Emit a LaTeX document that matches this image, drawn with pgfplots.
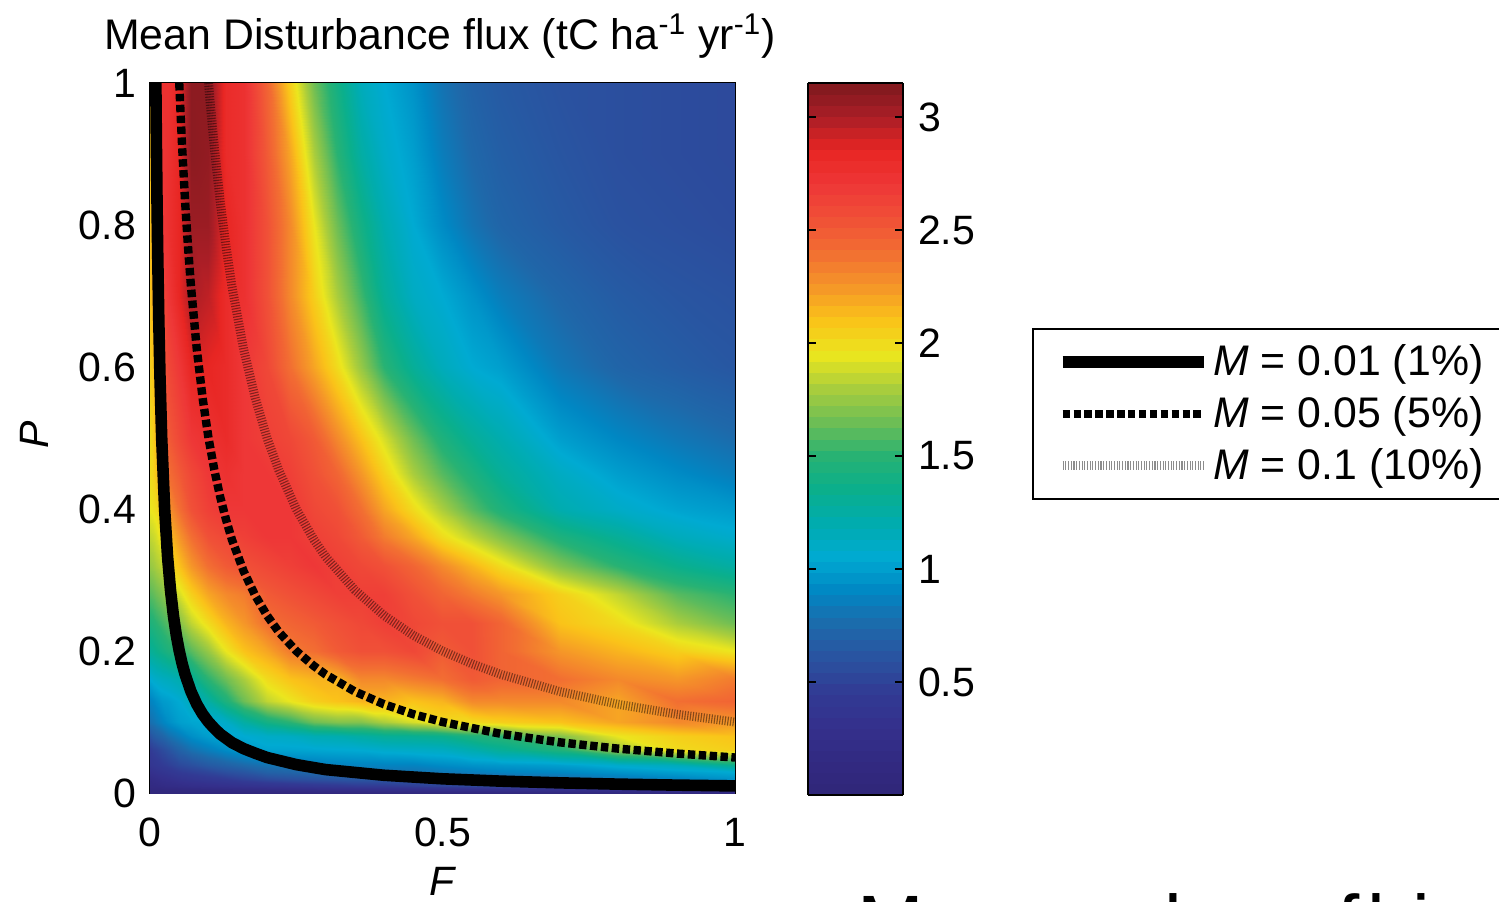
\documentclass[border=0pt]{standalone}
\usepackage{pgfplots}
\usepackage{pgfplotstable}
\pgfplotsset{compat=1.18}
\usepackage{fontspec}
\setmainfont{Liberation Sans}
\newcommand{\lf}{\fontsize{20.5}{24}\selectfont}
\pgfplotstableread[row sep=\\]{
F P v\\
0 0 .05\\ .005 0 .05\\ .01 0 .05\\ .02 0 .06\\ .03 0 .06\\ .05 0 .06\\ .07 0 .07\\ .1 0 .07\\ .13 0 .07\\ .16 0 .08\\ .2 0 .08\\ .24 0 .08\\ .28 0 .09\\ .32 0 .09\\ .36 0 .09\\ .4 0 .1\\ .45 0 .1\\ .5 0 .1\\ .55 0 .1\\ .6 0 .1\\ .7 0 .1\\ .8 0 .1\\ .9 0 .12\\ 1 0 .12\\
0 .005 .1\\ .005 .005 .1\\ .01 .005 .1\\ .02 .005 .11\\ .03 .005 .12\\ .05 .005 .13\\ .07 .005 .14\\ .1 .005 .16\\ .13 .005 .18\\ .16 .005 .2\\ .2 .005 .22\\ .24 .005 .24\\ .28 .005 .26\\ .32 .005 .28\\ .36 .005 .28\\ .4 .005 .3\\ .45 .005 .3\\ .5 .005 .32\\ .55 .005 .32\\ .6 .005 .33\\ .7 .005 .33\\ .8 .005 .35\\ .9 .005 .35\\ 1 .005 .35\\
0 .01 .15\\ .005 .01 .15\\ .01 .01 .16\\ .02 .01 .18\\ .03 .01 .2\\ .05 .01 .22\\ .07 .01 .25\\ .1 .01 .27\\ .13 .01 .3\\ .16 .01 .32\\ .2 .01 .35\\ .24 .01 .37\\ .28 .01 .4\\ .32 .01 .42\\ .36 .01 .45\\ .4 .01 .45\\ .45 .01 .47\\ .5 .01 .5\\ .55 .01 .52\\ .6 .01 .55\\ .7 .01 .6\\ .8 .01 .65\\ .9 .01 .7\\ 1 .01 .75\\
0 .02 .2\\ .005 .02 .22\\ .01 .02 .24\\ .02 .02 .28\\ .03 .02 .3\\ .05 .02 .35\\ .07 .02 .38\\ .1 .02 .42\\ .13 .02 .45\\ .16 .02 .5\\ .2 .02 .55\\ .24 .02 .58\\ .28 .02 .6\\ .32 .02 .62\\ .36 .02 .63\\ .4 .02 .63\\ .45 .02 .62\\ .5 .02 .63\\ .55 .02 .65\\ .6 .02 .68\\ .7 .02 .75\\ .8 .02 .82\\ .9 .02 .88\\ 1 .02 .95\\
0 .03 .3\\ .005 .03 .32\\ .01 .03 .34\\ .02 .03 .37\\ .03 .03 .4\\ .05 .03 .45\\ .07 .03 .48\\ .1 .03 .52\\ .13 .03 .58\\ .16 .03 .62\\ .2 .03 .7\\ .24 .03 .72\\ .28 .03 .75\\ .32 .03 .78\\ .36 .03 .8\\ .4 .03 .8\\ .45 .03 .8\\ .5 .03 .82\\ .55 .03 .85\\ .6 .03 .88\\ .7 .03 .9\\ .8 .03 .95\\ .9 .03 1.0\\ 1 .03 1.05\\
0 .04 .38\\ .005 .04 .4\\ .01 .04 .42\\ .02 .04 .45\\ .03 .04 .48\\ .05 .04 .54\\ .07 .04 .58\\ .1 .04 .65\\ .13 .04 .7\\ .16 .04 .75\\ .2 .04 .8\\ .24 .04 .82\\ .28 .04 .85\\ .32 .04 .87\\ .36 .04 .88\\ .4 .04 .88\\ .45 .04 .88\\ .5 .04 .92\\ .55 .04 .95\\ .6 .04 .97\\ .7 .04 1.0\\ .8 .04 1.08\\ .9 .04 1.15\\ 1 .04 1.35\\
0 .06 .45\\ .005 .06 .48\\ .01 .06 .5\\ .02 .06 .55\\ .03 .06 .6\\ .05 .06 .7\\ .07 .06 .78\\ .1 .06 .85\\ .13 .06 .92\\ .16 .06 .98\\ .2 .06 1.02\\ .24 .06 1.02\\ .28 .06 1.03\\ .32 .06 1.04\\ .36 .06 1.05\\ .4 .06 1.08\\ .45 .06 1.1\\ .5 .06 1.12\\ .55 .06 1.2\\ .6 .06 1.3\\ .7 .06 1.45\\ .8 .06 1.75\\ .9 .06 2.0\\ 1 .06 2.05\\
0 .08 .6\\ .005 .08 .65\\ .01 .08 .68\\ .02 .08 .72\\ .03 .08 .78\\ .05 .08 .85\\ .07 .08 .93\\ .1 .08 1.0\\ .13 .08 1.03\\ .16 .08 1.05\\ .2 .08 1.1\\ .24 .08 1.12\\ .28 .08 1.18\\ .32 .08 1.2\\ .36 .08 1.25\\ .4 .08 1.3\\ .45 .08 1.32\\ .5 .08 1.35\\ .55 .08 1.45\\ .6 .08 1.5\\ .7 .08 1.7\\ .8 .08 1.95\\ .9 .08 2.05\\ 1 .08 2.1\\
0 .1 .78\\ .005 .1 .8\\ .01 .1 .83\\ .02 .1 .88\\ .03 .1 .93\\ .05 .1 1.0\\ .07 .1 1.03\\ .1 .1 1.05\\ .13 .1 1.1\\ .16 .1 1.25\\ .2 .1 1.4\\ .24 .1 1.5\\ .28 .1 1.65\\ .32 .1 1.7\\ .36 .1 1.7\\ .4 .1 1.8\\ .45 .1 1.9\\ .5 .1 2.0\\ .55 .1 2.0\\ .6 .1 2.05\\ .7 .1 2.1\\ .8 .1 2.2\\ .9 .1 2.3\\ 1 .1 2.25\\
0 .13 .88\\ .005 .13 .9\\ .01 .13 .93\\ .02 .13 .98\\ .03 .13 1.0\\ .05 .13 1.05\\ .07 .13 1.15\\ .1 .13 1.25\\ .13 .13 1.45\\ .16 .13 1.65\\ .2 .13 1.85\\ .24 .13 1.95\\ .28 .13 2.05\\ .32 .13 2.1\\ .36 .13 2.15\\ .4 .13 2.15\\ .45 .13 2.1\\ .5 .13 2.15\\ .55 .13 2.3\\ .6 .13 2.3\\ .7 .13 2.3\\ .8 .13 2.2\\ .9 .13 2.4\\ 1 .13 2.45\\
0 .16 1.05\\ .005 .16 1.08\\ .01 .16 1.1\\ .02 .16 1.13\\ .03 .16 1.15\\ .05 .16 1.2\\ .07 .16 1.3\\ .1 .16 1.5\\ .13 .16 1.65\\ .16 .16 1.8\\ .2 .16 2.0\\ .24 .16 2.1\\ .28 .16 2.15\\ .32 .16 2.15\\ .36 .16 2.3\\ .4 .16 2.3\\ .45 .16 2.35\\ .5 .16 2.4\\ .55 .16 2.5\\ .6 .16 2.45\\ .7 .16 2.4\\ .8 .16 2.3\\ .9 .16 2.25\\ 1 .16 2.35\\
0 .2 1.3\\ .005 .2 1.32\\ .01 .2 1.35\\ .02 .2 1.4\\ .03 .2 1.45\\ .05 .2 1.5\\ .07 .2 1.6\\ .1 .2 1.75\\ .13 .2 1.95\\ .16 .2 2.1\\ .2 .2 2.2\\ .24 .2 2.35\\ .28 .2 2.4\\ .32 .2 2.5\\ .36 .2 2.55\\ .4 .2 2.55\\ .45 .2 2.6\\ .5 .2 2.5\\ .55 .2 2.55\\ .6 .2 2.45\\ .7 .2 2.25\\ .8 .2 2.15\\ .9 .2 2.05\\ 1 .2 1.95\\
0 .24 1.45\\ .005 .24 1.47\\ .01 .24 1.5\\ .02 .24 1.55\\ .03 .24 1.6\\ .05 .24 1.7\\ .07 .24 1.85\\ .1 .24 2.0\\ .13 .24 2.15\\ .16 .24 2.25\\ .2 .24 2.4\\ .24 .24 2.45\\ .28 .24 2.5\\ .32 .24 2.55\\ .36 .24 2.6\\ .4 .24 2.65\\ .45 .24 2.6\\ .5 .24 2.55\\ .55 .24 2.55\\ .6 .24 2.45\\ .7 .24 2.1\\ .8 .24 2.0\\ .9 .24 1.8\\ 1 .24 1.65\\
0 .28 1.6\\ .005 .28 1.62\\ .01 .28 1.65\\ .02 .28 1.7\\ .03 .28 1.8\\ .05 .28 1.9\\ .07 .28 2.05\\ .1 .28 2.2\\ .13 .28 2.3\\ .16 .28 2.35\\ .2 .28 2.5\\ .24 .28 2.55\\ .28 .28 2.6\\ .32 .28 2.65\\ .36 .28 2.65\\ .4 .28 2.65\\ .45 .28 2.55\\ .5 .28 2.45\\ .55 .28 2.35\\ .6 .28 2.25\\ .7 .28 2.05\\ .8 .28 1.85\\ .9 .28 1.6\\ 1 .28 1.5\\
0 .32 1.75\\ .005 .32 1.77\\ .01 .32 1.8\\ .02 .32 1.85\\ .03 .32 2.0\\ .05 .32 2.1\\ .07 .32 2.25\\ .1 .32 2.4\\ .13 .32 2.5\\ .16 .32 2.55\\ .2 .32 2.6\\ .24 .32 2.65\\ .28 .32 2.7\\ .32 .32 2.65\\ .36 .32 2.6\\ .4 .32 2.55\\ .45 .32 2.45\\ .5 .32 2.3\\ .55 .32 2.15\\ .6 .32 2.0\\ .7 .32 1.7\\ .8 .32 1.5\\ .9 .32 1.35\\ 1 .32 1.25\\
0 .36 1.85\\ .005 .36 1.87\\ .01 .36 1.9\\ .02 .36 2.0\\ .03 .36 2.1\\ .05 .36 2.25\\ .07 .36 2.4\\ .1 .36 2.55\\ .13 .36 2.6\\ .16 .36 2.65\\ .2 .36 2.7\\ .24 .36 2.7\\ .28 .36 2.65\\ .32 .36 2.6\\ .36 .36 2.5\\ .4 .36 2.35\\ .45 .36 2.2\\ .5 .36 2.0\\ .55 .36 1.85\\ .6 .36 1.7\\ .7 .36 1.45\\ .8 .36 1.3\\ .9 .36 1.15\\ 1 .36 1.08\\
0 .4 1.95\\ .005 .4 1.97\\ .01 .4 2.0\\ .02 .4 2.1\\ .03 .4 2.25\\ .05 .4 2.4\\ .07 .4 2.55\\ .1 .4 2.65\\ .13 .4 2.7\\ .16 .4 2.7\\ .2 .4 2.7\\ .24 .4 2.7\\ .28 .4 2.6\\ .32 .4 2.55\\ .36 .4 2.4\\ .4 .4 2.2\\ .45 .4 2.0\\ .5 .4 1.8\\ .55 .4 1.6\\ .6 .4 1.45\\ .7 .4 1.2\\ .8 .4 1.1\\ .9 .4 1.02\\ 1 .4 .98\\
0 .45 2.0\\ .005 .45 2.03\\ .01 .45 2.1\\ .02 .45 2.25\\ .03 .45 2.4\\ .05 .45 2.5\\ .07 .45 2.6\\ .1 .45 2.7\\ .13 .45 2.75\\ .16 .45 2.7\\ .2 .45 2.7\\ .24 .45 2.65\\ .28 .45 2.55\\ .32 .45 2.45\\ .36 .45 2.25\\ .4 .45 2.05\\ .45 .45 1.8\\ .5 .45 1.6\\ .55 .45 1.45\\ .6 .45 1.3\\ .7 .45 1.12\\ .8 .45 1.0\\ .9 .45 .92\\ 1 .45 .85\\
0 .5 2.0\\ .005 .5 2.05\\ .01 .5 2.15\\ .02 .5 2.35\\ .03 .5 2.5\\ .05 .5 2.6\\ .07 .5 2.7\\ .1 .5 2.75\\ .13 .5 2.8\\ .16 .5 2.7\\ .2 .5 2.65\\ .24 .5 2.6\\ .28 .5 2.5\\ .32 .5 2.3\\ .36 .5 2.1\\ .4 .5 1.9\\ .45 .5 1.65\\ .5 .5 1.45\\ .55 .5 1.3\\ .6 .5 1.2\\ .7 .5 1.0\\ .8 .5 .9\\ .9 .5 .82\\ 1 .5 .76\\
0 .6 2.05\\ .005 .6 2.1\\ .01 .6 2.3\\ .02 .6 2.5\\ .03 .6 2.6\\ .05 .6 2.7\\ .07 .6 2.85\\ .1 .6 2.85\\ .13 .6 2.8\\ .16 .6 2.7\\ .2 .6 2.6\\ .24 .6 2.4\\ .28 .6 2.2\\ .32 .6 2.0\\ .36 .6 1.75\\ .4 .6 1.5\\ .45 .6 1.3\\ .5 .6 1.15\\ .55 .6 1.05\\ .6 .6 1.0\\ .7 .6 .82\\ .8 .6 .72\\ .9 .6 .67\\ 1 .6 .63\\
0 .7 2.1\\ .005 .7 2.2\\ .01 .7 2.4\\ .02 .7 2.6\\ .03 .7 2.7\\ .05 .7 2.85\\ .07 .7 3.0\\ .1 .7 2.95\\ .13 .7 2.8\\ .16 .7 2.75\\ .2 .7 2.55\\ .24 .7 2.3\\ .28 .7 2.05\\ .32 .7 1.8\\ .36 .7 1.55\\ .4 .7 1.3\\ .45 .7 1.12\\ .5 .7 1.05\\ .55 .7 .95\\ .6 .7 .85\\ .7 .7 .73\\ .8 .7 .66\\ .9 .7 .62\\ 1 .7 .6\\
0 .8 2.1\\ .005 .8 2.25\\ .01 .8 2.5\\ .02 .8 2.7\\ .03 .8 2.75\\ .05 .8 2.85\\ .07 .8 3.05\\ .1 .8 3.05\\ .13 .8 2.85\\ .16 .8 2.75\\ .2 .8 2.55\\ .24 .8 2.3\\ .28 .8 1.95\\ .32 .8 1.65\\ .36 .8 1.4\\ .4 .8 1.2\\ .45 .8 1.05\\ .5 .8 .92\\ .55 .8 .8\\ .6 .8 .72\\ .7 .8 .65\\ .8 .8 .6\\ .9 .8 .58\\ 1 .8 .56\\
0 .9 2.1\\ .005 .9 2.25\\ .01 .9 2.55\\ .02 .9 2.72\\ .03 .9 2.75\\ .05 .9 2.85\\ .07 .9 3.1\\ .1 .9 3.08\\ .13 .9 2.8\\ .16 .9 2.75\\ .2 .9 2.5\\ .24 .9 2.2\\ .28 .9 1.8\\ .32 .9 1.5\\ .36 .9 1.25\\ .4 .9 1.1\\ .45 .9 1.0\\ .5 .9 .85\\ .55 .9 .74\\ .6 .9 .68\\ .7 .9 .62\\ .8 .9 .58\\ .9 .9 .56\\ 1 .9 .55\\
0 1 2.1\\ .005 1 2.2\\ .01 1 2.5\\ .02 1 2.75\\ .03 1 2.75\\ .05 1 2.85\\ .07 1 3.1\\ .1 1 3.1\\ .13 1 2.8\\ .16 1 2.75\\ .2 1 2.45\\ .24 1 2.05\\ .28 1 1.65\\ .32 1 1.4\\ .36 1 1.15\\ .4 1 1.05\\ .45 1 .95\\ .5 1 .8\\ .55 1 .7\\ .6 1 .65\\ .7 1 .6\\ .8 1 .58\\ .9 1 .56\\ 1 1 .55\\
}\fluxtable
\begin{document}
\begin{tikzpicture}
\path[use as bounding box] (0,0) rectangle (749.5pt,450.5pt);
\clip (0,0) rectangle (749.5pt,450.5pt);
\begin{axis}[
  at={(75pt,54pt)}, anchor=south west,
  scale only axis, width=292.5pt, height=355pt,
  xmin=0, xmax=1, ymin=0, ymax=1,
  axis line style={line width=0.8pt},
  tick align=inside, major tick length=4pt, tick style={black, line width=0.7pt},
  xtick={0,0.5,1}, ytick={0,0.2,0.4,0.6,0.8,1},
  xticklabels={0,0.5,1}, yticklabels={0,0.2,0.4,0.6,0.8,1},
  tick label style={font=\lf},
  xticklabel style={yshift=-9pt},
  yticklabel style={xshift=-3.5pt},
  title={Mean Disturbance flux (tC ha\textsuperscript{-1} yr\textsuperscript{-1})},
  title style={font=\fontsize{21.4}{25}\selectfont, at={(0.4957,1)}, anchor=center, yshift=17.5pt},
  xlabel={\emph{F}}, ylabel={\emph{P}},
  xlabel style={font=\lf, at={(axis description cs:0.5,-0.125)}, anchor=center},
  ylabel style={font=\lf, at={(axis description cs:-0.197,0.504)}, anchor=center},
  point meta min=0, point meta max=3.15,
  colormap={flux}{
    rgb255=(48,38,120) rgb255=(50,42,130) rgb255=(52,48,140) rgb255=(50,58,148)
    rgb255=(42,82,160) rgb255=(30,105,170) rgb255=(0,135,195) rgb255=(0,170,210)
    rgb255=(0,172,175) rgb255=(10,175,140) rgb255=(40,178,115) rgb255=(110,190,85)
    rgb255=(170,205,60) rgb255=(235,230,30) rgb255=(250,195,25) rgb255=(245,150,40)
    rgb255=(242,110,50) rgb255=(240,80,55) rgb255=(238,55,55) rgb255=(232,38,35)
    rgb255=(170,30,38) rgb255=(125,25,30)},
  colorbar sampled,
  colorbar style={
    samples=65,
    at={(1.1248,-0.0028)}, anchor=south west,
    scale only axis, width=47.5pt, height=356pt,
    ytick={0.5,1,1.5,2,2.5,3}, yticklabels={0.5,1,1.5,2,2.5,3},
    yticklabel pos=right, ytick pos=both, tick align=inside,
    major tick length=4pt, tick style={black, line width=0.7pt},
    axis line style={line width=0.8pt},
    tick label style={font=\lf},
    yticklabel style={xshift=4pt},
  },
  legend style={at={(1.5077,0.6549)}, anchor=north west, draw=black, line width=0.8pt,
    fill=white, inner xsep=12pt, inner ysep=6pt, font=\fontsize{21.4}{25}\selectfont, cells={anchor=west},
    /tikz/every even column/.append style={column sep=7pt}, row sep=5pt,
    legend cell align=left},
  legend image code/.code={\draw[#1] (0pt,0pt)--(70.5pt,0pt);},
]
\addplot[surf, shader=interp, forget plot, mesh/ordering=x varies, mesh/cols=24, point meta=explicit]
  table[x=F, y=P, meta=v] {\fluxtable};
\addplot[black, line width=5.8pt] coordinates {
(.01,1)(.0105,.952)(.011,.909)(.012,.833)(.013,.769)(.015,.667)(.017,.588)(.02,.5)(.025,.4)(.03,.333)(.035,.286)(.04,.25)(.045,.222)(.05,.2)(.055,.182)(.06,.167)(.07,.143)(.08,.125)(.09,.111)(.1,.1)(.11,.091)(.12,.083)(.14,.071)(.16,.0625)(.18,.056)(.2,.05)(.25,.04)(.3,.033)(.35,.029)(.4,.025)(.5,.02)(.6,.0167)(.7,.0143)(.8,.0125)(.9,.0111)(1,.01)};
\addlegendentry{\emph{M} = 0.01 (1\%)}
\addplot[black, line width=4.2pt, dash pattern=on 3.7pt off 1.75pt] coordinates {
(.05,1)(.052,.962)(.055,.909)(.06,.833)(.065,.769)(.07,.714)(.08,.625)(.09,.556)(.1,.5)(.11,.455)(.12,.417)(.13,.385)(.14,.357)(.16,.3125)(.18,.278)(.2,.25)(.22,.227)(.25,.2)(.28,.179)(.3,.167)(.35,.143)(.4,.125)(.45,.111)(.5,.1)(.6,.0833)(.7,.0714)(.8,.0625)(.9,.0556)(1,.05)};
\addlegendentry{\emph{M} = 0.05 (5\%)}
\addplot[black, opacity=0.45, line width=4.5pt, dash pattern=on 0.55pt off 0.8pt] coordinates {
(.1,1)(.105,.952)(.11,.909)(.12,.833)(.13,.769)(.14,.714)(.16,.625)(.18,.556)(.2,.5)(.22,.455)(.25,.4)(.28,.357)(.3,.333)(.35,.286)(.4,.25)(.45,.222)(.5,.2)(.55,.182)(.6,.167)(.7,.143)(.8,.125)(.9,.111)(1,.1)};
\addlegendentry{\emph{M} = 0.1 (10\%)}
\end{axis}
\node[anchor=base west, inner sep=0pt, font=\fontsize{40}{48}\selectfont] at (428.5pt,-25pt) {Mean value of\hspace{0.1em}biomass};
\end{tikzpicture}
\end{document}
